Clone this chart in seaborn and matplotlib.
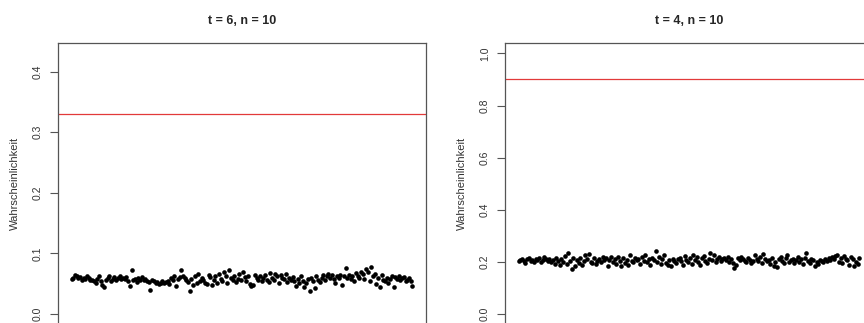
import numpy as np
import pandas as pd
import matplotlib
matplotlib.use("Agg")
import matplotlib.pyplot as plt
import seaborn as sns

# simulated probabilities, 200 runs per panel
p_t6 = [0.058, 0.060, 0.064, 0.062, 0.059, 0.061, 0.057, 0.060, 0.058, 0.062,
        0.060, 0.057, 0.056, 0.054, 0.052, 0.058, 0.062, 0.055, 0.048, 0.045,
        0.056, 0.060, 0.063, 0.055, 0.058, 0.061, 0.057, 0.059, 0.062, 0.058,
        0.060, 0.058, 0.061, 0.055, 0.047, 0.073, 0.056, 0.058, 0.053, 0.060,
        0.057, 0.061, 0.056, 0.058, 0.055, 0.053, 0.040, 0.056, 0.054, 0.051,
        0.053, 0.050, 0.052, 0.054, 0.051, 0.053, 0.055, 0.050, 0.060, 0.057,
        0.062, 0.046, 0.058, 0.061, 0.072, 0.062, 0.059, 0.056, 0.053, 0.038,
        0.058, 0.048, 0.062, 0.052, 0.066, 0.055, 0.060, 0.056, 0.052, 0.050,
        0.064, 0.061, 0.048, 0.057, 0.063, 0.052, 0.066, 0.058, 0.055, 0.069,
        0.062, 0.052, 0.072, 0.060, 0.056, 0.063, 0.053, 0.058, 0.066, 0.056,
        0.070, 0.061, 0.054, 0.063, 0.050, 0.046, 0.048, 0.064, 0.060, 0.057,
        0.062, 0.055, 0.059, 0.064, 0.057, 0.053, 0.068, 0.060, 0.056, 0.066,
        0.062, 0.052, 0.064, 0.060, 0.058, 0.066, 0.053, 0.059, 0.056, 0.061,
        0.055, 0.047, 0.058, 0.051, 0.063, 0.055, 0.045, 0.052, 0.058, 0.038,
        0.060, 0.055, 0.043, 0.062, 0.057, 0.053, 0.060, 0.064, 0.056, 0.062,
        0.066, 0.060, 0.064, 0.058, 0.052, 0.062, 0.059, 0.065, 0.048, 0.063,
        0.076, 0.060, 0.064, 0.058, 0.062, 0.055, 0.068, 0.063, 0.060, 0.070,
        0.066, 0.058, 0.074, 0.069, 0.054, 0.078, 0.063, 0.066, 0.050, 0.060,
        0.045, 0.064, 0.057, 0.055, 0.060, 0.052, 0.058, 0.062, 0.044, 0.061,
        0.058, 0.063, 0.056, 0.059, 0.061, 0.055, 0.057, 0.060, 0.054, 0.047]

p_t4 = [0.202, 0.208, 0.212, 0.205, 0.196, 0.210, 0.214, 0.203, 0.209, 0.198,
        0.212, 0.206, 0.215, 0.201, 0.208, 0.218, 0.211, 0.204, 0.213, 0.199,
        0.207, 0.194, 0.216, 0.203, 0.188, 0.210, 0.198, 0.222, 0.193, 0.233,
        0.205, 0.172, 0.214, 0.184, 0.209, 0.197, 0.215, 0.190, 0.203, 0.228,
        0.212, 0.229, 0.200, 0.195, 0.217, 0.191, 0.205, 0.213, 0.198, 0.219,
        0.209, 0.214, 0.186, 0.206, 0.218, 0.201, 0.211, 0.193, 0.220, 0.204,
        0.183, 0.214, 0.196, 0.209, 0.190, 0.225, 0.203, 0.198, 0.216, 0.206,
        0.213, 0.192, 0.219, 0.204, 0.228, 0.199, 0.210, 0.187, 0.215, 0.206,
        0.241, 0.201, 0.218, 0.194, 0.211, 0.226, 0.197, 0.190, 0.208, 0.184,
        0.213, 0.205, 0.196, 0.210, 0.216, 0.202, 0.189, 0.222, 0.207, 0.200,
        0.214, 0.193, 0.226, 0.209, 0.218, 0.198, 0.190, 0.215, 0.221, 0.203,
        0.195, 0.210, 0.233, 0.206, 0.228, 0.199, 0.213, 0.218, 0.204, 0.211,
        0.215, 0.207, 0.219, 0.201, 0.212, 0.196, 0.175, 0.190, 0.214, 0.208,
        0.218, 0.211, 0.205, 0.199, 0.214, 0.207, 0.196, 0.202, 0.225, 0.210,
        0.204, 0.218, 0.197, 0.230, 0.212, 0.203, 0.208, 0.194, 0.215, 0.186,
        0.199, 0.180, 0.210, 0.219, 0.203, 0.196, 0.214, 0.228, 0.201, 0.208,
        0.213, 0.195, 0.206, 0.218, 0.200, 0.210, 0.192, 0.215, 0.233, 0.203,
        0.197, 0.212, 0.206, 0.186, 0.201, 0.194, 0.209, 0.203, 0.198, 0.211,
        0.205, 0.214, 0.208, 0.219, 0.210, 0.224, 0.228, 0.201, 0.216, 0.195,
        0.222, 0.213, 0.207, 0.188, 0.219, 0.212, 0.186, 0.200, 0.191, 0.215]

titles = ["t = 6, n = 10", "t = 4, n = 10"]
ref_lines = [0.33, 0.9]
ylims = [0.43, 1.0]
yticks = [[0.0, 0.1, 0.2, 0.3, 0.4], [0.0, 0.2, 0.4, 0.6, 0.8, 1.0]]
ylabel = "Wahrscheinlichkeit"

sns.set_style("ticks")
plt.rcParams['font.family'] = ['Liberation Sans', 'DejaVu Sans']

fig = plt.figure(figsize=(8.64, 3.23), dpi=100)
# axes placed like the R plot; bottom and right edges run just off the picture
positions = [[58/864, -1.5/323, 368/864, 281.5/323],
             [505/864, -1.5/323, 368/864, 281.5/323]]

for k, vals in enumerate([p_t6, p_t4]):
    ax = fig.add_axes(positions[k])
    df = pd.DataFrame({"run": np.arange(1, len(vals) + 1), "p": vals})
    sns.scatterplot(data=df, x="run", y="p", ax=ax, color="black", s=11,
                    linewidth=0, edgecolor=None)
    ax.axhline(ref_lines[k], color="#e23a3a", linewidth=0.9)
    n = len(vals)
    ext = 0.04 * (n - 1)
    ax.set_xlim(1 - ext, n + ext)
    ax.set_ylim(-0.04 * ylims[k], 1.04 * ylims[k])
    ax.set_xticks([])
    ax.set_yticks(yticks[k])
    ax.set_yticklabels([f"{v:.1f}" for v in yticks[k]], rotation=90, va="center",
                       fontsize=7.5, color="#333333")
    ax.tick_params(axis="y", length=6, width=0.8, color="#555555", pad=5)
    ax.set_xlabel("")
    ax.set_ylabel(ylabel, fontsize=8, color="#333333", labelpad=9)
    ax.set_title(titles[k], fontsize=9, fontweight="bold", pad=14)
    for sp in ax.spines.values():
        sp.set_visible(True)
        sp.set_color("#555555")
        sp.set_linewidth(0.9)

fig.savefig("out.png", dpi=100)
